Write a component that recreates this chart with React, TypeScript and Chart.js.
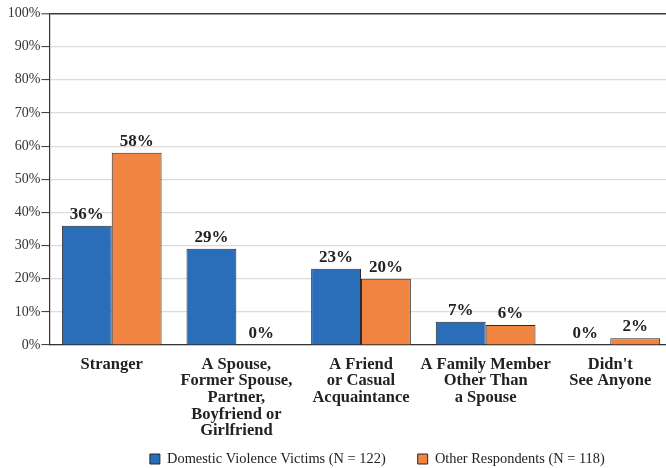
import React, { useEffect, useRef } from "react";
import { Chart, registerables } from "chart.js";

Chart.register(...registerables);

const categories: string[][] = [
  ["Stranger"],
  ["A Spouse,", "Former Spouse,", "Partner,", "Boyfriend or", "Girlfriend"],
  ["A Friend", "or Casual", "Acquaintance"],
  ["A Family Member", "Other Than", "a Spouse"],
  ["Didn't", "See Anyone"],
];
const dvVictims: number[] = [36, 29, 23, 7, 0];
const otherRespondents: number[] = [58, 0, 20, 6, 2];
const seriesNames: string[] = [
  "Domestic Violence Victims (N = 122)",
  "Other Respondents (N = 118)",
];
const yTicks: number[] = [0, 10, 20, 30, 40, 50, 60, 70, 80, 90, 100];

const SERIF = "'Liberation Serif', 'DejaVu Serif', serif";
const BLUE = "#2a6db8";
const ORANGE = "#f08440";
const LEGEND_FONT = 14.4;
const LEGEND_PAD = 32;

const valueLabels = {
  id: "valueLabels",
  afterDatasetsDraw(chart: any) {
    const ctx = chart.ctx;
    ctx.save();
    ctx.font = `bold 17px ${SERIF}`;
    ctx.fillStyle = "#222";
    ctx.textAlign = "center";
    ctx.textBaseline = "alphabetic";
    chart.data.datasets.forEach((ds: any, i: number) => {
      const meta = chart.getDatasetMeta(i);
      meta.data.forEach((bar: any, j: number) => {
        ctx.fillText(`${ds.data[j]}%`, bar.x, bar.y - 7);
      });
    });
    ctx.restore();
  },
};

const legendShift = {
  id: "legendShift",
  afterLayout(chart: any) {
    const lg = chart.legend;
    if (!lg) return;
    lg.left += 41;
    lg.right += 41;
    lg.top = 459 - (LEGEND_PAD + LEGEND_FONT / 2);
    lg.bottom = chart.height;
    lg.height = lg.bottom - lg.top;
  },
};

export default function App() {
  const ref = useRef<HTMLCanvasElement | null>(null);

  useEffect(() => {
    if (!ref.current) return;
    const chart = new Chart(ref.current, {
      type: "bar",
      data: {
        labels: categories,
        datasets: [
          {
            label: seriesNames[0],
            data: dvVictims,
            backgroundColor: BLUE,
            borderColor: "#2b2b2b",
            borderWidth: 1,
            categoryPercentage: 0.8,
            barPercentage: 1.0,
          },
          {
            label: seriesNames[1],
            data: otherRespondents,
            backgroundColor: ORANGE,
            borderColor: "#2b2b2b",
            borderWidth: 1,
            categoryPercentage: 0.8,
            barPercentage: 1.0,
          },
        ],
      },
      options: {
        responsive: false,
        animation: false,
        layout: { padding: { left: 0, right: 1.4, top: 13.5, bottom: 2 } },
        plugins: {
          legend: {
            position: "bottom",
            maxHeight: 21,
            labels: {
              boxWidth: 10,
              boxHeight: 10,
              padding: LEGEND_PAD,
              color: "#222",
              font: { family: SERIF, size: LEGEND_FONT },
            },
          },
          tooltip: { enabled: false },
        },
        scales: {
          x: {
            grid: { display: false, drawTicks: false },
            border: { display: true, color: "#333", width: 1.2 },
            ticks: {
              color: "#222",
              padding: 11,
              maxRotation: 0,
              autoSkip: false,
              font: { family: SERIF, size: 16.5, weight: "bold", lineHeight: 1.01 },
            },
            afterFit: (axis: any) => {
              axis.height = 100;
            },
          },
          y: {
            min: 0,
            max: 100,
            afterBuildTicks: (axis: any) => {
              axis.ticks = yTicks.map((v) => ({ value: v }));
            },
            grid: {
              color: (c: any) => (c.tick && c.tick.value === 100 ? "#3a3a3a" : "#dcdcdc"),
              lineWidth: (c: any) => (c.tick && c.tick.value === 100 ? 1.6 : 1.2),
              tickColor: "#333",
              tickLength: 8,
              tickWidth: 1,
            },
            border: { display: true, color: "#333", width: 1.2 },
            ticks: {
              color: "#333",
              padding: 1,
              font: { family: SERIF, size: 14 },
              callback: (v: any) => `${v}%`,
            },
            afterFit: (axis: any) => {
              axis.width = 49.4;
            },
          },
        },
      },
      plugins: [valueLabels, legendShift],
    });
    return () => chart.destroy();
  }, []);

  return (
    <div
      style={{
        position: "fixed",
        left: 0,
        top: 0,
        width: 666,
        height: 468,
        overflow: "hidden",
        background: "#fff",
      }}
    >
      <canvas ref={ref} width={674} height={468} style={{ display: "block" }} />
    </div>
  );
}
